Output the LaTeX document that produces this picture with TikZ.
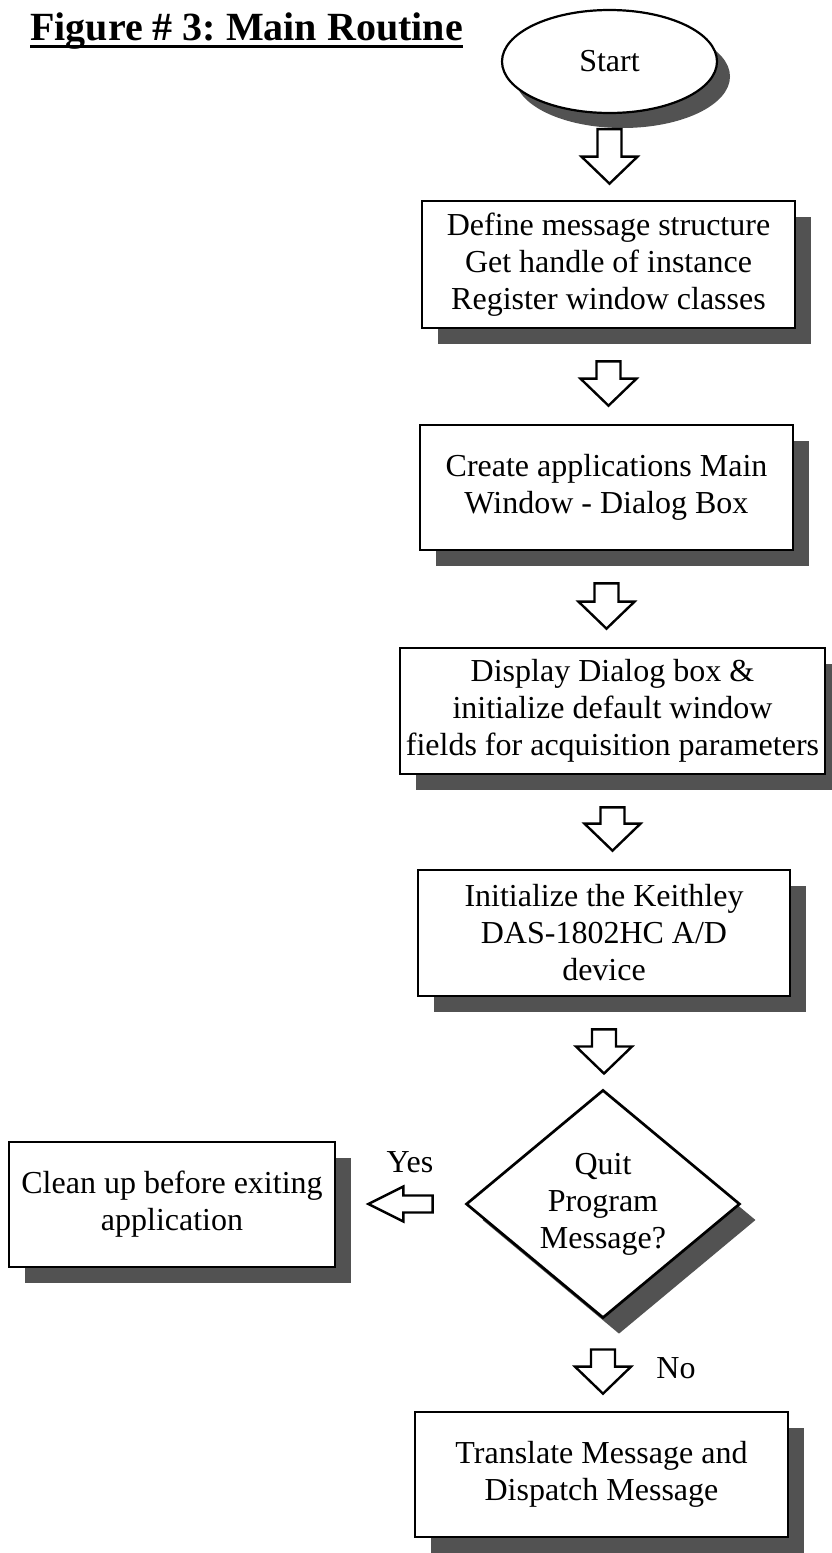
\documentclass[tikz,border=0pt]{standalone}
\usepackage{fontspec}
\setmainfont{Liberation Serif}
\usetikzlibrary{calc,shapes.geometric,shadows}

% hollow block arrow pointing down, between two anchors
% #1 upper anchor, #2 lower anchor, #3 gap below #1, #4 gap above #2
\newcommand\flowdown[4]{%
  \draw[blockarrow] let \p1=(#1), \p2=(#2) in
    (\x1-12pt,\y1-#3) -- (\x1+12pt,\y1-#3) -- (\x1+12pt,\y2+#4+27pt)
    -- (\x1+28pt,\y2+#4+27pt) -- (\x1,\y2+#4) -- (\x1-28pt,\y2+#4+27pt)
    -- (\x1-12pt,\y2+#4+27pt) -- cycle;}
% hollow block arrow pointing left, between two anchors
\newcommand\flowleft[4]{%
  \draw[blockarrow] let \p1=(#1), \p2=(#2) in
    (\x1-#3,\y1+8.5pt) -- (\x2+#4+35pt,\y1+8.5pt) -- (\x2+#4+35pt,\y1+17.5pt)
    -- (\x2+#4,\y1) -- (\x2+#4+35pt,\y1-17.5pt) -- (\x2+#4+35pt,\y1-8.5pt)
    -- (\x1-#3,\y1-8.5pt) -- cycle;}

\begin{document}
\begin{tikzpicture}[x=1pt,y=-1pt,
  every node/.style={font=\fontsize{32}{37}\selectfont},
  shadowed/.style={drop shadow={shadow xshift=16pt,shadow yshift=-16pt,
      fill=black!68,opacity=1}},
  stepbox/.style={draw,line width=2.7pt,fill=white,align=center,
      inner sep=0pt,minimum height=125pt,shadowed},
  blockarrow/.style={draw,line width=2.4pt,fill=white,line join=miter},
]
\useasboundingbox (0,0) rectangle (831,1553);

% heading
\node[anchor=base west,inner sep=0pt,font=\fontsize{40}{42}\selectfont\bfseries]
  (title) at (30,40) {Figure \#\ 3:\ Main Routine};
\draw[line width=3pt] ($(title.base west)+(0,6)$) -- ($(title.base east)+(0,6)$);

% start terminal
\node[ellipse,draw,line width=2.2pt,fill=white,inner sep=0pt,
  minimum width=215pt,minimum height=103pt,
  drop shadow={shadow xshift=13pt,shadow yshift=-15pt,fill=black!68,opacity=1}]
  (start) at (609.5,61.5) {Start};

% processing steps
\node[stepbox,minimum width=373pt,minimum height=127pt] (define) at (608.5,264.5)
  {Define message structure\\Get handle of instance\\Register window classes};
\node[stepbox,minimum width=373pt] (create) at (606.5,487.5)
  {Create applications Main\\Window - Dialog Box};
\node[stepbox,minimum width=425pt,minimum height=126pt] (display) at (612.5,711)
  {Display Dialog box \&\\initialize default window\\fields for acquisition parameters};
\node[stepbox,minimum width=372pt,minimum height=126pt] (init) at (604,933)
  {Initialize the Keithley\\DAS-1802HC A/D\\device};

% decision
\node[diamond,draw,line width=2.7pt,fill=white,inner sep=0pt,align=center,
  minimum width=274pt,minimum height=222pt,shadowed]
  (quit) at (603,1204) {Quit\\Program\\Message?};

\node[stepbox,minimum width=326pt] (cleanup) at (172,1204.5)
  {Clean up before exiting\\application};
\node[stepbox,minimum width=373pt] (dispatch) at (601.5,1474.5)
  {Translate Message and\\Dispatch Message};

% flow
\flowdown{start.south}{define.north}{15pt}{16pt}
\flowdown{define.south}{create.north}{32pt}{18pt}
\flowdown{create.south}{display.north}{32pt}{18pt}
\flowdown{display.south}{init.north}{32pt}{18pt}
\flowdown{init.south}{quit.north}{32pt}{15pt}
\flowdown{quit.south}{dispatch.north}{30pt}{17pt}
\flowleft{quit.west}{cleanup.east}{32pt}{32pt}

\node (yes) at (410,1162) {Yes};
\node (no) at (676,1368) {No};
\end{tikzpicture}
\end{document}
